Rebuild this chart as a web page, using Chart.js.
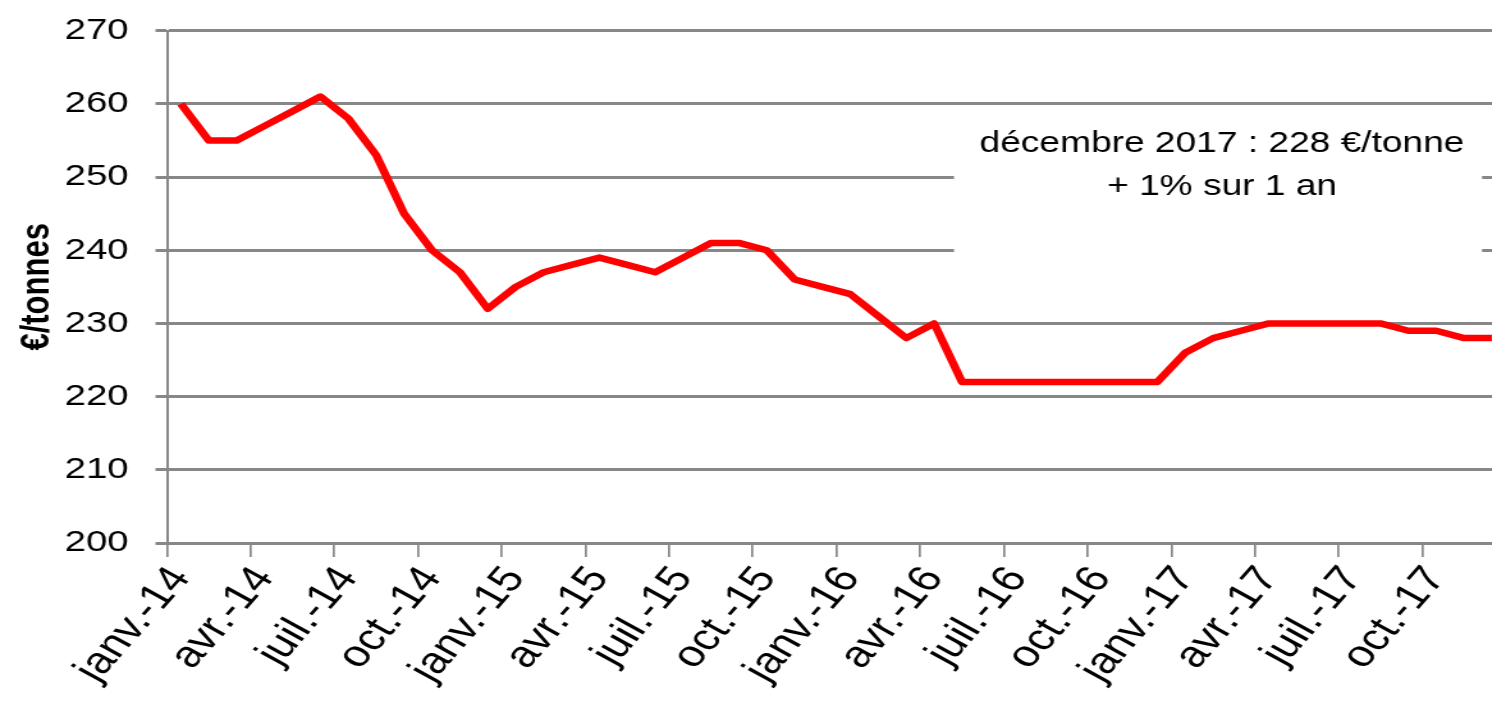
<!DOCTYPE html>
<html>
<head>
<meta charset="utf-8">
<script src="https://cdn.jsdelivr.net/npm/chart.js@4.4.1/dist/chart.umd.min.js"></script>
<style>
  html, body { margin: 0; padding: 0; background: #fff; overflow: hidden; }
  #wrap { width: 1492px; height: 709px; overflow: hidden; position: relative; }
</style>
</head>
<body>
<div id="wrap"><canvas id="prix" width="1177" height="709" style="display:block;width:1506px;height:709px"></canvas></div>
<script>
// mois janv.-14 .. déc.-17
var mois = [
    'janv.-14','févr.-14','mars-14','avr.-14','mai-14','juin-14','juil.-14','août-14','sept.-14','oct.-14','nov.-14','déc.-14',
    'janv.-15','févr.-15','mars-15','avr.-15','mai-15','juin-15','juil.-15','août-15','sept.-15','oct.-15','nov.-15','déc.-15',
    'janv.-16','févr.-16','mars-16','avr.-16','mai-16','juin-16','juil.-16','août-16','sept.-16','oct.-16','nov.-16','déc.-16',
    'janv.-17','févr.-17','mars-17','avr.-17','mai-17','juin-17','juil.-17','août-17','sept.-17','oct.-17','nov.-17','déc.-17'
];
var prix = [
    260, 255, 255, 257, 259, 261, 258, 253, 245, 240, 237, 232,
    235, 237, 238, 239, 238, 237, 239, 241, 241, 240, 236, 235,
    234, 231, 228, 230, 222, 222, 222, 222, 222, 222, 222, 222,
    226, 228, 229, 230, 230, 230, 230, 230, 229, 229, 228, 228
];
var yTicks = [200, 210, 220, 230, 240, 250, 260, 270];
var note = ['décembre 2017 : 228 €/tonne', '+ 1% sur 1 an'];

// the picture is stretched sideways, canvas is drawn narrow and widened by css
var S = 1506 / 1177;
var gris = '#878787';

Chart.defaults.font.family = '"Liberation Sans", Arial, sans-serif';
Chart.defaults.color = '#000';

var encadre = {
    id: 'encadre',
    beforeDatasetsDraw: function (chart) {
        var c = chart.ctx;
        c.save();
        c.fillStyle = '#fff';
        c.fillRect(954 / S, 112, (1482 - 954) / S, 262 - 112);
        c.fillStyle = '#000';
        c.font = '29px "Liberation Sans", Arial, sans-serif';
        c.textAlign = 'center';
        c.textBaseline = 'middle';
        c.fillText(note[0], 1222 / S, 144);
        c.fillText(note[1], 1222 / S, 187);
        c.restore();
    }
};

function noPad(scale) {
    scale.paddingTop = 0;
    scale.paddingBottom = 0;
    scale.paddingLeft = 0;
    scale.paddingRight = 0;
}

var ctx = document.getElementById('prix');
var prixChart = new Chart(ctx, {
    type: 'line',
    data: {
        labels: mois,
        datasets: [{
            data: prix,
            borderColor: '#ff0000',
            borderWidth: 6.5,
            pointRadius: 0,
            tension: 0,
            borderJoinStyle: 'round',
            fill: false
        }]
    },
    options: {
        responsive: false,
        animation: false,
        layout: { padding: { top: 30.7, right: 0, bottom: 0, left: 0 } },
        plugins: { legend: { display: false }, tooltip: { enabled: false } },
        scales: {
            x: {
                offset: true,
                grid: {
                    offset: true,
                    drawOnChartArea: false,
                    tickLength: 14,
                    lineWidth: 1.7,
                    color: function (c) { return c.index % 3 === 0 ? gris : 'rgba(0,0,0,0)'; }
                },
                border: { color: gris, width: 3 },
                ticks: {
                    autoSkip: false,
                    maxRotation: 55,
                    minRotation: 55,
                    padding: 2,
                    font: { size: 37 },
                    callback: function (v, i) { return i % 3 === 0 ? mois[i] : ''; }
                },
                afterFit: function (scale) { scale.height = 709 - 543; noPad(scale); }
            },
            y: {
                min: yTicks[0],
                max: yTicks[yTicks.length - 1],
                afterBuildTicks: function (scale) {
                    scale.ticks = yTicks.map(function (v) { return { value: v }; });
                },
                grid: { color: gris, lineWidth: 3, tickLength: 9 },
                border: { color: gris, width: 2 },
                ticks: { padding: 21, font: { size: 30 } },
                title: {
                    display: true,
                    text: '€/tonnes',
                    font: { size: 31, weight: 'bold' },
                    padding: { top: 11, bottom: 0 }
                },
                afterFit: function (scale) { scale.width = 130.5; noPad(scale); }
            }
        }
    },
    plugins: [encadre]
});
</script>
</body>
</html>
